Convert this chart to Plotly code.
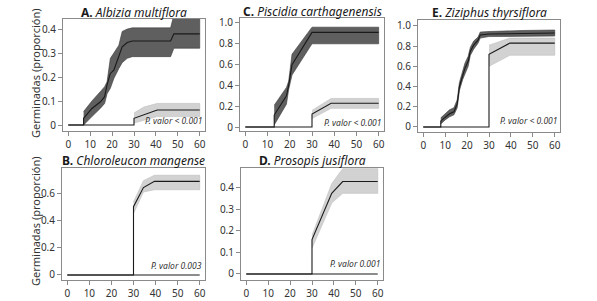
import plotly.graph_objects as go

W, H = 597, 301

# ---------------- data ----------------
# Panel A: Albizia multiflora
A_dark_days = [7, 10.8, 14.7, 16.6, 17.7, 19.2, 20.8, 23.1, 24.6, 26.9, 29.2, 46.7, 48.2, 60]
A_dark_mid  = [0.028, 0.069, 0.097, 0.118, 0.167, 0.215, 0.229, 0.29, 0.326, 0.344, 0.35, 0.35, 0.38, 0.38]
A_dark_hi   = [0.056, 0.10, 0.14, 0.16, 0.18, 0.278, 0.30, 0.333, 0.39, 0.40, 0.405, 0.405, 0.46, 0.46]
A_dark_lo   = [0.0, 0.035, 0.07, 0.09, 0.13, 0.153, 0.194, 0.236, 0.26, 0.278, 0.285, 0.285, 0.32, 0.32]
A_light_days = [30, 34.5, 40.6, 60]
A_light_mid  = [0.028, 0.042, 0.0625, 0.0625]
A_light_hi   = [0.05, 0.075, 0.09, 0.09]
A_light_lo   = [0.008, 0.02, 0.035, 0.035]

# Panel C: Piscidia carthagenensis
C_dark_days = [13, 18.5, 19.5, 21, 30, 60]
C_dark_mid  = [0.115, 0.30, 0.40, 0.60, 0.91, 0.91]
C_dark_hi   = [0.21, 0.38, 0.44, 0.70, 0.96, 0.96]
C_dark_lo   = [0.02, 0.22, 0.36, 0.50, 0.80, 0.80]
C_light_days = [30, 38.6, 60]
C_light_mid  = [0.125, 0.228, 0.228]
C_light_hi   = [0.16, 0.275, 0.275]
C_light_lo   = [0.083, 0.18, 0.18]

# Panel E: Ziziphus thyrsiflora
E_dark_days = [8, 10, 12, 14, 15.5, 16.5, 18, 19, 20.5, 21.5, 23, 25, 26, 30, 45, 60]
E_dark_mid  = [0.06, 0.10, 0.13, 0.15, 0.23, 0.40, 0.52, 0.58, 0.65, 0.75, 0.81, 0.86, 0.91, 0.92, 0.925, 0.93]
E_dark_hi   = [0.09, 0.13, 0.17, 0.19, 0.27, 0.44, 0.57, 0.63, 0.70, 0.79, 0.85, 0.89, 0.94, 0.945, 0.955, 0.96]
E_dark_lo   = [0.03, 0.07, 0.10, 0.12, 0.19, 0.36, 0.47, 0.53, 0.60, 0.71, 0.77, 0.83, 0.88, 0.895, 0.90, 0.90]
E_light_days = [30, 39.5, 60]
E_light_mid  = [0.72, 0.83, 0.83]
E_light_hi   = [0.81, 0.88, 0.88]
E_light_lo   = [0.60, 0.71, 0.71]

# Panel B: Chloroleucon mangense (only the late group germinates)
B_light_days = [30, 34.5, 39.5, 60]
B_light_mid  = [0.50, 0.64, 0.685, 0.685]
B_light_hi   = [0.534, 0.69, 0.73, 0.73]
B_light_lo   = [0.449, 0.607, 0.624, 0.624]

# Panel D: Prosopis jusiflora
D_light_days = [30, 39, 44, 60]
D_light_mid  = [0.16, 0.375, 0.43, 0.43]
D_light_hi   = [0.18, 0.42, 0.49, 0.49]
D_light_lo   = [0.12, 0.33, 0.375, 0.375]

x_ticks = [0, 10, 20, 30, 40, 50, 60]

panels = [
    dict(letter="A.", name="Albizia multiflora", p="P. valor < 0.001",
         box=(63, 205, 19, 131), yr=(-0.025, 0.442),
         yt=[0, 0.1, 0.2, 0.3, 0.4], ytt=["0", "0.1", "0.2", "0.3", "0.4"],
         dark=(A_dark_days, A_dark_mid, A_dark_hi, A_dark_lo),
         light=(A_light_days, A_light_mid, A_light_hi, A_light_lo), py=0.03),
    dict(letter="C.", name="Piscidia carthagenensis", p="P. valor < 0.001",
         box=(240, 384, 18, 131), yr=(-0.038, 1.048),
         yt=[0, 0.2, 0.4, 0.6, 0.8, 1.0], ytt=["0", "0.2", "0.4", "0.6", "0.8", "1.0"],
         dark=(C_dark_days, C_dark_mid, C_dark_hi, C_dark_lo),
         light=(C_light_days, C_light_mid, C_light_hi, C_light_lo), py=0.01),
    dict(letter="E.", name="Ziziphus thyrsiflora", p="P. valor < 0.001",
         box=(418, 560, 20, 132), yr=(-0.05, 1.059),
         yt=[0, 0.2, 0.4, 0.6, 0.8, 1.0], ytt=["0", "0.2", "0.4", "0.6", "0.8", "1.0"],
         dark=(E_dark_days, E_dark_mid, E_dark_hi, E_dark_lo),
         light=(E_light_days, E_light_mid, E_light_hi, E_light_lo), py=0.035),
    dict(letter="B.", name="Chloroleucon mangense", p="P. valor 0.003",
         box=(62, 205, 168, 280), yr=(-0.037, 0.783),
         yt=[0, 0.2, 0.4, 0.6], ytt=["0", "0.2", "0.4", "0.6"],
         dark=None,
         light=(B_light_days, B_light_mid, B_light_hi, B_light_lo), py=0.06),
    dict(letter="D.", name="Prosopis jusiflora", p="P. valor 0.001",
         box=(241, 383, 168, 280), yr=(-0.028, 0.493),
         yt=[0, 0.1, 0.2, 0.3, 0.4], ytt=["0", "0.1", "0.2", "0.3", "0.4"],
         dark=None,
         light=(D_light_days, D_light_mid, D_light_hi, D_light_lo), py=0.08),
]

FONT = "Noto Sans"
DARK_FILL = "#5f5f5f"
LIGHT_FILL = "#d2d2d2"
AX_COL = "#8a8a8a"

fig = go.Figure()
annotations = []
layout = {}

for i, pnl in enumerate(panels):
    n = "" if i == 0 else str(i + 1)
    xa, ya = "x" + n, "y" + n
    l, r, t, b = pnl["box"]
    common = dict(showline=True, linecolor=AX_COL, linewidth=1, mirror=True,
                  ticks="outside", ticklen=4, tickcolor=AX_COL, tickwidth=1,
                  showgrid=False, zeroline=False, automargin=False,
                  tickfont=dict(family=FONT, size=10, color="#333333"))
    layout["xaxis" + n] = dict(domain=[l / W, r / W], anchor=ya, range=[-2.4, 62.4],
                               tickmode="array", tickvals=x_ticks, **common)
    layout["yaxis" + n] = dict(domain=[1 - b / H, 1 - t / H], anchor=xa, range=list(pnl["yr"]),
                               tickmode="array", tickvals=pnl["yt"], ticktext=pnl["ytt"], **common)

    groups = []
    if pnl["light"] is not None:
        groups.append((pnl["light"], LIGHT_FILL, "#bdbdbd"))
    if pnl["dark"] is not None:
        groups.append((pnl["dark"], DARK_FILL, "#3a3a3a"))
    # bands
    for (d, m, hi, lo), fc, lc in groups:
        fig.add_trace(go.Scatter(x=list(d) + list(d)[::-1], y=list(hi) + list(lo)[::-1],
                                 fill="toself", fillcolor=fc, mode="lines",
                                 line=dict(color=lc, width=0.6), hoverinfo="skip",
                                 showlegend=False, xaxis=xa, yaxis=ya))
    # lines
    if pnl["light"] is not None:
        d, m, hi, lo = pnl["light"]
        fig.add_trace(go.Scatter(x=[0, d[0]] + list(d), y=[0, 0] + list(m), mode="lines",
                                 line=dict(color="#1a1a1a", width=1.1), showlegend=False,
                                 xaxis=xa, yaxis=ya))
    if pnl["dark"] is not None:
        d, m, hi, lo = pnl["dark"]
        fig.add_trace(go.Scatter(x=[0, d[0]] + list(d), y=[0, 0] + list(m), mode="lines",
                                 line=dict(color="#1a1a1a", width=1.1), showlegend=False,
                                 xaxis=xa, yaxis=ya))
    else:
        fig.add_trace(go.Scatter(x=[0, 60], y=[0, 0], mode="lines",
                                 line=dict(color="#1a1a1a", width=1.1), showlegend=False,
                                 xaxis=xa, yaxis=ya))

    # title
    annotations.append(dict(text="<b>%s</b> <i>%s</i>" % (pnl["letter"], pnl["name"]),
                            xref="paper", yref="paper", x=((l + r) / 2) / W,
                            y=1 - (t - 7) / H, xanchor="center", yanchor="middle",
                            showarrow=False, font=dict(family=FONT, size=12, color="#1a1a1a")))
    # p value
    annotations.append(dict(text="<i>%s</i>" % pnl["p"], xref=xa + " domain", yref=ya + " domain",
                            x=0.99, y=pnl["py"], xanchor="right", yanchor="bottom",
                            showarrow=False, font=dict(family=FONT, size=8.5, color="#333333")))

for yc in (73, 221):
    annotations.append(dict(text="Germinadas (proporción)", xref="paper", yref="paper",
                            x=35 / W, y=1 - yc / H, textangle=-90, showarrow=False,
                            xanchor="center", yanchor="middle",
                            font=dict(family=FONT, size=11, color="#333333")))

fig.update_layout(width=W, height=H, margin=dict(l=0, r=0, t=0, b=0),
                  paper_bgcolor="white", plot_bgcolor="white",
                  annotations=annotations, **layout)

fig.write_html("out.html", config={"displayModeBar": False},
               post_script="document.body.style.margin='0';document.body.style.padding='0';")
